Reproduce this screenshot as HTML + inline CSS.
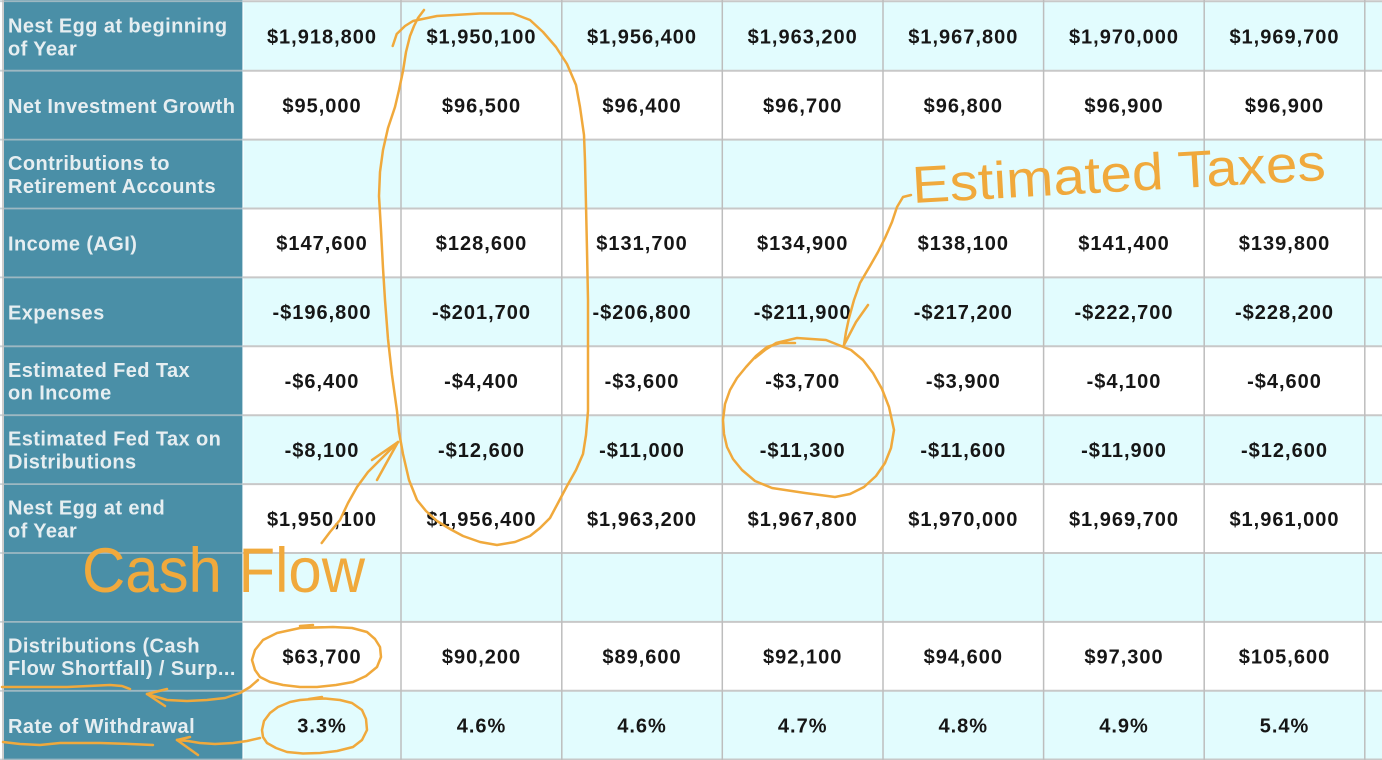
<!DOCTYPE html>
<html>
<head>
<meta charset="utf-8">
<style>
  html,body{margin:0;padding:0;background:#ffffff;}
  body{width:1382px;height:760px;overflow:hidden;}
  svg{display:block;}
  .v{font-family:"Liberation Sans",Arial,sans-serif;font-weight:bold;font-size:20px;letter-spacing:1px;fill:#161616;text-anchor:middle;}
  .h{font-family:"Liberation Sans",Arial,sans-serif;font-weight:bold;font-size:20px;letter-spacing:0.4px;fill:#e6eef1;}
  .ann{fill:none;stroke:#f0a93c;stroke-width:2.5;stroke-linecap:round;stroke-linejoin:round;}
  .annt{font-family:"Liberation Sans",Arial,sans-serif;fill:#f0a93c;}
</style>
</head>
<body>
<svg width="1382" height="760" viewBox="0 0 1382 760" xmlns="http://www.w3.org/2000/svg">
  <!-- row backgrounds (data area) -->
  <rect x="243" y="1.8" width="1139" height="68.9" fill="#e2fcfe"/>
  <rect x="243" y="70.7" width="1139" height="68.9" fill="#ffffff"/>
  <rect x="243" y="139.6" width="1139" height="68.9" fill="#e2fcfe"/>
  <rect x="243" y="208.5" width="1139" height="68.9" fill="#ffffff"/>
  <rect x="243" y="277.4" width="1139" height="68.9" fill="#e2fcfe"/>
  <rect x="243" y="346.3" width="1139" height="68.9" fill="#ffffff"/>
  <rect x="243" y="415.2" width="1139" height="68.9" fill="#e2fcfe"/>
  <rect x="243" y="484.1" width="1139" height="68.9" fill="#ffffff"/>
  <rect x="243" y="553.0" width="1139" height="68.9" fill="#e2fcfe"/>
  <rect x="243" y="621.9" width="1139" height="68.9" fill="#ffffff"/>
  <rect x="243" y="690.8" width="1139" height="69.2" fill="#e2fcfe"/>

  <!-- teal header column -->
  <rect x="4" y="0" width="238.5" height="760" fill="#4a8fa7"/>
  <line x1="243" y1="0" x2="243" y2="760" stroke="#ffffff" stroke-width="1.2"/>

  <!-- horizontal grid lines -->
  <g stroke="#c8c8c8" stroke-width="2">
    <line x1="243" y1="1.2" x2="1382" y2="1.2"/>
    <line x1="243" y1="70.7" x2="1382" y2="70.7"/>
    <line x1="243" y1="139.6" x2="1382" y2="139.6"/>
    <line x1="243" y1="208.5" x2="1382" y2="208.5"/>
    <line x1="243" y1="277.4" x2="1382" y2="277.4"/>
    <line x1="243" y1="346.3" x2="1382" y2="346.3"/>
    <line x1="243" y1="415.2" x2="1382" y2="415.2"/>
    <line x1="243" y1="484.1" x2="1382" y2="484.1"/>
    <line x1="243" y1="553.0" x2="1382" y2="553.0"/>
    <line x1="243" y1="621.9" x2="1382" y2="621.9"/>
    <line x1="243" y1="690.8" x2="1382" y2="690.8"/>
    <line x1="243" y1="759.5" x2="1382" y2="759.5"/>
  </g>
  <g stroke="#b9c6cc" stroke-width="1.8" opacity="0.75">
    <line x1="0" y1="1.2" x2="243" y2="1.2"/>
    <line x1="0" y1="70.7" x2="243" y2="70.7"/>
    <line x1="0" y1="139.6" x2="243" y2="139.6"/>
    <line x1="0" y1="208.5" x2="243" y2="208.5"/>
    <line x1="0" y1="277.4" x2="243" y2="277.4"/>
    <line x1="0" y1="346.3" x2="243" y2="346.3"/>
    <line x1="0" y1="415.2" x2="243" y2="415.2"/>
    <line x1="0" y1="484.1" x2="243" y2="484.1"/>
    <line x1="0" y1="553.0" x2="243" y2="553.0"/>
    <line x1="0" y1="621.9" x2="243" y2="621.9"/>
    <line x1="0" y1="690.8" x2="243" y2="690.8"/>
    <line x1="0" y1="759.5" x2="243" y2="759.5"/>
  </g>

  <!-- vertical grid lines -->
  <g stroke="#bdbdbd" stroke-width="1.5">
    <line x1="3" y1="0" x2="3" y2="760"/>
    <line x1="401" y1="0" x2="401" y2="760"/>
    <line x1="561.8" y1="0" x2="561.8" y2="760"/>
    <line x1="722.3" y1="0" x2="722.3" y2="760"/>
    <line x1="883" y1="0" x2="883" y2="760"/>
    <line x1="1043.6" y1="0" x2="1043.6" y2="760"/>
    <line x1="1204.2" y1="0" x2="1204.2" y2="760"/>
    <line x1="1364.8" y1="0" x2="1364.8" y2="760"/>
  </g>

  <!-- header labels -->
  <text class="h" x="8" y="32.5">Nest Egg at beginning</text>
  <text class="h" x="8" y="55.3">of Year</text>
  <text class="h" x="8" y="112.8">Net Investment Growth</text>
  <text class="h" x="8" y="170.2">Contributions to</text>
  <text class="h" x="8" y="193">Retirement Accounts</text>
  <text class="h" x="8" y="250.5">Income (AGI)</text>
  <text class="h" x="8" y="319.4">Expenses</text>
  <text class="h" x="8" y="376.8">Estimated Fed Tax</text>
  <text class="h" x="8" y="399.6">on Income</text>
  <text class="h" x="8" y="445.7">Estimated Fed Tax on</text>
  <text class="h" x="8" y="468.5">Distributions</text>
  <text class="h" x="8" y="514.6">Nest Egg at end</text>
  <text class="h" x="8" y="537.4">of Year</text>
  <text class="h" x="8" y="652.4">Distributions (Cash</text>
  <text class="h" x="8" y="675.2">Flow Shortfall) / Surp...</text>
  <text class="h" x="8" y="732.8">Rate of Withdrawal</text>

  <!-- values row 0 -->
  <g class="v">
    <text x="322" y="43.5">$1,918,800</text>
    <text x="481.5" y="43.5">$1,950,100</text>
    <text x="642" y="43.5">$1,956,400</text>
    <text x="802.7" y="43.5">$1,963,200</text>
    <text x="963.3" y="43.5">$1,967,800</text>
    <text x="1124" y="43.5">$1,970,000</text>
    <text x="1284.5" y="43.5">$1,969,700</text>
  </g>
  <g class="v">
    <text x="322" y="112.4">$95,000</text>
    <text x="481.5" y="112.4">$96,500</text>
    <text x="642" y="112.4">$96,400</text>
    <text x="802.7" y="112.4">$96,700</text>
    <text x="963.3" y="112.4">$96,800</text>
    <text x="1124" y="112.4">$96,900</text>
    <text x="1284.5" y="112.4">$96,900</text>
  </g>
  <g class="v">
    <text x="322" y="250.2">$147,600</text>
    <text x="481.5" y="250.2">$128,600</text>
    <text x="642" y="250.2">$131,700</text>
    <text x="802.7" y="250.2">$134,900</text>
    <text x="963.3" y="250.2">$138,100</text>
    <text x="1124" y="250.2">$141,400</text>
    <text x="1284.5" y="250.2">$139,800</text>
  </g>
  <g class="v">
    <text x="322" y="319.1">-$196,800</text>
    <text x="481.5" y="319.1">-$201,700</text>
    <text x="642" y="319.1">-$206,800</text>
    <text x="802.7" y="319.1">-$211,900</text>
    <text x="963.3" y="319.1">-$217,200</text>
    <text x="1124" y="319.1">-$222,700</text>
    <text x="1284.5" y="319.1">-$228,200</text>
  </g>
  <g class="v">
    <text x="322" y="388">-$6,400</text>
    <text x="481.5" y="388">-$4,400</text>
    <text x="642" y="388">-$3,600</text>
    <text x="802.7" y="388">-$3,700</text>
    <text x="963.3" y="388">-$3,900</text>
    <text x="1124" y="388">-$4,100</text>
    <text x="1284.5" y="388">-$4,600</text>
  </g>
  <g class="v">
    <text x="322" y="456.9">-$8,100</text>
    <text x="481.5" y="456.9">-$12,600</text>
    <text x="642" y="456.9">-$11,000</text>
    <text x="802.7" y="456.9">-$11,300</text>
    <text x="963.3" y="456.9">-$11,600</text>
    <text x="1124" y="456.9">-$11,900</text>
    <text x="1284.5" y="456.9">-$12,600</text>
  </g>
  <g class="v">
    <text x="322" y="525.8">$1,950,100</text>
    <text x="481.5" y="525.8">$1,956,400</text>
    <text x="642" y="525.8">$1,963,200</text>
    <text x="802.7" y="525.8">$1,967,800</text>
    <text x="963.3" y="525.8">$1,970,000</text>
    <text x="1124" y="525.8">$1,969,700</text>
    <text x="1284.5" y="525.8">$1,961,000</text>
  </g>
  <g class="v">
    <text x="322" y="663.6">$63,700</text>
    <text x="481.5" y="663.6">$90,200</text>
    <text x="642" y="663.6">$89,600</text>
    <text x="802.7" y="663.6">$92,100</text>
    <text x="963.3" y="663.6">$94,600</text>
    <text x="1124" y="663.6">$97,300</text>
    <text x="1284.5" y="663.6">$105,600</text>
  </g>
  <g class="v">
    <text x="322" y="732.5">3.3%</text>
    <text x="481.5" y="732.5">4.6%</text>
    <text x="642" y="732.5">4.6%</text>
    <text x="802.7" y="732.5">4.7%</text>
    <text x="963.3" y="732.5">4.8%</text>
    <text x="1124" y="732.5">4.9%</text>
    <text x="1284.5" y="732.5">5.4%</text>
  </g>

  <!-- ===== orange annotations ===== -->
  <!-- big oval around column 2 -->
  <path class="ann" d="M392.7,46 L396.7,34 L405,26 L413,21 L437,16 L480,13.5 L513,13.5 L530,20 L543,32 L556,47 L567,64 L576,85 L580,107 L584,135 L585,161 L586,205 L587,250 L588,300 L588,339 L588,380 L588,411 L586,435 L583,454 L576,470 L567,486 L558,503 L550,518 L540,528 L530,536 L515,542 L497,545 L480,542 L463,536 L450,529 L437,521 L426,511 L417,500 L409,480 L403,454 L399,432 L397,411 L392,375 L388,339 L385,300 L383,268 L381,230 L379,196 L380,172 L383,150 L388,128 L395,107 L399,90 L403,71 L406,52 L410,36 L414,26 L418,18 L424,10"/>
  <!-- Cash Flow arrow -->
  <path class="ann" d="M321.7,543 L330,532 L340,520 L348,503 L357,487 L368,472 L380,460 L390,450 L398,442"/>
  <path class="ann" d="M398,442 L372,460 M398,442 L377,480"/>

  <!-- Estimated Taxes arrow -->
  <path class="ann" d="M911,195 L903,197 L897,207 L892,222 L885,238 L878,252 L870,266 L860,283 L854,300 L849,318 L846,332 L844,345"/>
  <path class="ann" d="M844,345 L856,322 L868,305"/>
  <!-- circle around -$3,700 / -$11,300 -->
  <path class="ann" d="M755,358 L765,350 L776,343 L797,338 L826,340 L851,350 L863,360 L873,373 L882,389 L889,407 L894,430 L891,448 L885,463 L876,476 L864,487 L850,494 L835,497 L805,493 L772,488 L755,481 L742,470 L733,459 L727,447 L724,434 L723,420 L725,404 L730,390 L737,378 L746,367 L756,356 L767,347 L780,343 L795,343"/>

  <!-- $63,700 oval + arrow + underline -->
  <path class="ann" d="M300,626 L313,625"/>
  <path class="ann" d="M333,627 L300,628 L277,633 L263,640 L255,650 L252,660 L255,670 L260,677 L270,682 L283,685 L300,687 L317,687 L336,685 L353,682 L366,676 L377,667 L381,657 L380,647 L375,639 L367,632 L352,628 L333,627 L312,627.5"/>
  <path class="ann" d="M258,680 L250,687 L240,693 L225,698 L207,700 L187,701 L167,700 L147,694"/>
  <path class="ann" d="M147,694 L167,689 M147,694 L165,706"/>
  <path class="ann" d="M2,687 L30,687 L67,687 L110,685 L122,686 L130,689"/>

  <!-- 3.3% oval + arrow + underline -->
  <path class="ann" d="M309,699 L322,697"/>
  <path class="ann" d="M313,699 L300,700 L290,702 L278,707 L270,713 L264,721 L262,730 L263,737 L267,743 L276,748 L287,752 L303,753.5 L320,753 L337,751 L353,747 L362,740 L367,730 L366,719 L362,710 L352,703 L340,700 L325,698.5 L313,699"/>
  <path class="ann" d="M260,738 L247,741 L233,743 L215,744 L200,743 L188,741 L177,740"/>
  <path class="ann" d="M177,740 L190,737 M177,740 L198,755"/>
  <path class="ann" d="M3,742 L20,744 L40,745 L60,743 L100,743 L130,744 L153,745"/>

  <!-- annotation text -->
  <text class="annt" x="82" y="592" font-size="63" textLength="283" lengthAdjust="spacingAndGlyphs">Cash Flow</text>
  <text class="annt" x="913" y="203" font-size="52" textLength="414" lengthAdjust="spacingAndGlyphs" transform="rotate(-3.2 913 203)">Estimated Taxes</text>
</svg>
</body>
</html>
